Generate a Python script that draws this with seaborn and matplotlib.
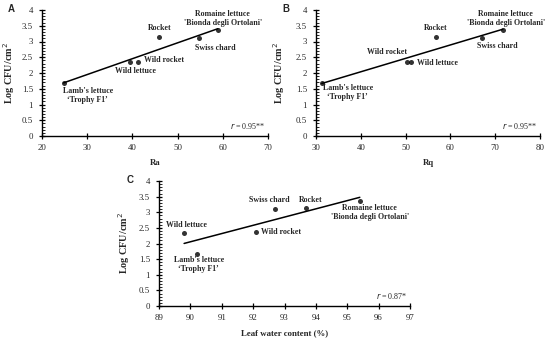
import matplotlib
matplotlib.use("Agg")
import matplotlib.pyplot as plt
import seaborn as sns
from matplotlib.ticker import MultipleLocator

# data, one entry per crop
crops = ["Lamb's lettuce\n\u2018Trophy F1\u2019", "Wild lettuce", "Wild rocket",
         "Rocket", "Swiss chard", "Romaine lettuce\n'Bionda degli Ortolani'"]
log_cfu = [1.68, 2.35, 2.36, 3.14, 3.10, 3.36]
ra = [24.8, 39.5, 41.3, 45.9, 54.7, 58.9]
rq = [31.3, 51.1, 50.4, 56.7, 67.0, 71.7]
leaf_water = [90.2, 89.8, 92.1, 93.7, 92.7, 95.4]

r_labels = ["0.95**", "0.95**", "0.87*"]
x_labels = ["Ra", "Rq", "Leaf water content (%)"]
x_ticks = [list(range(20, 71, 10)), list(range(30, 81, 10)), list(range(89, 98))]
y_ticks = [0, 0.5, 1, 1.5, 2, 2.5, 3, 3.5, 4]

W, H = 550, 344

sns.set_style("ticks")
plt.rcParams['font.family'] = ['Liberation Serif', 'DejaVu Serif']

fig = plt.figure(figsize=(W / 100, H / 100), dpi=100)


def px_axes(left, right, top, bottom):
    return fig.add_axes([left / W, 1 - bottom / H, (right - left) / W,
                         (bottom - top) / H])


# label placement per panel: (dx px, dy px, ha, va)
offsets = [
    [(24, -4, 'center', 'top'), (5, -9, 'center', 'center'),
     (6, 2, 'left', 'center'), (1, 9, 'center', 'center'),
     (16, -10, 'center', 'center'), (5, 3, 'center', 'bottom')],
    [(26, -1, 'center', 'top'), (6, -1, 'left', 'center'),
     (-20, 10, 'center', 'center'), (0, 9, 'center', 'center'),
     (16, -8, 'center', 'center'), (3, 3, 'center', 'bottom')],
    [(2, -3, 'center', 'top'), (2, 8, 'center', 'center'),
     (5, 0, 'left', 'center'), (4, 8, 'center', 'center'),
     (-6, 9, 'center', 'center'), (10, -3, 'center', 'top')],
]

# axes box in pixels, panel letter position, y label distance from axis
panels = [
    (ra, (42, 268, 10, 136), 'A', (8, 9), 25),
    (rq, (316, 540, 10, 136), 'B', (282, 9), 29),
    (leaf_water, (159, 410, 181, 306), 'C', (127, 180), 27),
]

for i, (xvals, box, letter, lpos, ylab_dist) in enumerate(panels):
    ax = px_axes(*box)
    sns.regplot(x=xvals, y=log_cfu, ax=ax, ci=None, color='black',
                scatter_kws={'s': 13, 'linewidths': 0},
                line_kws={'lw': 1.1})
    for name, x, y, (dx, dy, ha, va) in zip(crops, xvals, log_cfu, offsets[i]):
        ax.annotate(name, (x, y), xytext=(dx, dy), textcoords='offset pixels',
                    ha=ha, va=va, multialignment='center', fontsize=5.7,
                    fontweight='bold', linespacing=1.15)
    ax.set_xlim(x_ticks[i][0], x_ticks[i][-1])
    ax.set_ylim(0, 4)
    ax.set_xticks(x_ticks[i])
    ax.set_yticks(y_ticks)
    ax.set_yticklabels([f'{t:g}' for t in y_ticks])
    ax.yaxis.set_minor_locator(MultipleLocator(0.1))
    ax.tick_params(which='major', direction='inout', length=4, width=0.9,
                   labelsize=6.3, color='black')
    ax.tick_params(which='major', axis='x', pad=3.5)
    ax.tick_params(which='major', axis='y', pad=4.5)
    ax.tick_params(which='minor', axis='y', direction='in', length=2,
                   width=0.6, color='black')
    for s in ['left', 'bottom']:
        ax.spines[s].set_linewidth(1.0)
        ax.spines[s].set_color('black')
    sns.despine(ax=ax)
    ax.set_xlabel(x_labels[i], fontsize=6.3, fontweight='bold')
    ax.set_ylabel('Log CFU/cm$^2$', fontsize=7.3, fontweight='bold')
    ax_w = box[1] - box[0]
    ax_h = box[3] - box[2]
    ax.xaxis.set_label_coords(0.5, -23 / ax_h)
    ax.yaxis.set_label_coords(-ylab_dist / ax_w, 0.5)
    ax.text(0.99, 0.08, '$r$ = ' + r_labels[i], transform=ax.transAxes,
            ha='right', va='center', fontsize=5.8)
    fig.text(lpos[0] / W, 1 - lpos[1] / H, letter, fontsize=7,
             fontweight='bold', ha='left', va='center',
             family=['Liberation Sans'])

fig.savefig('out.png', dpi=100)
